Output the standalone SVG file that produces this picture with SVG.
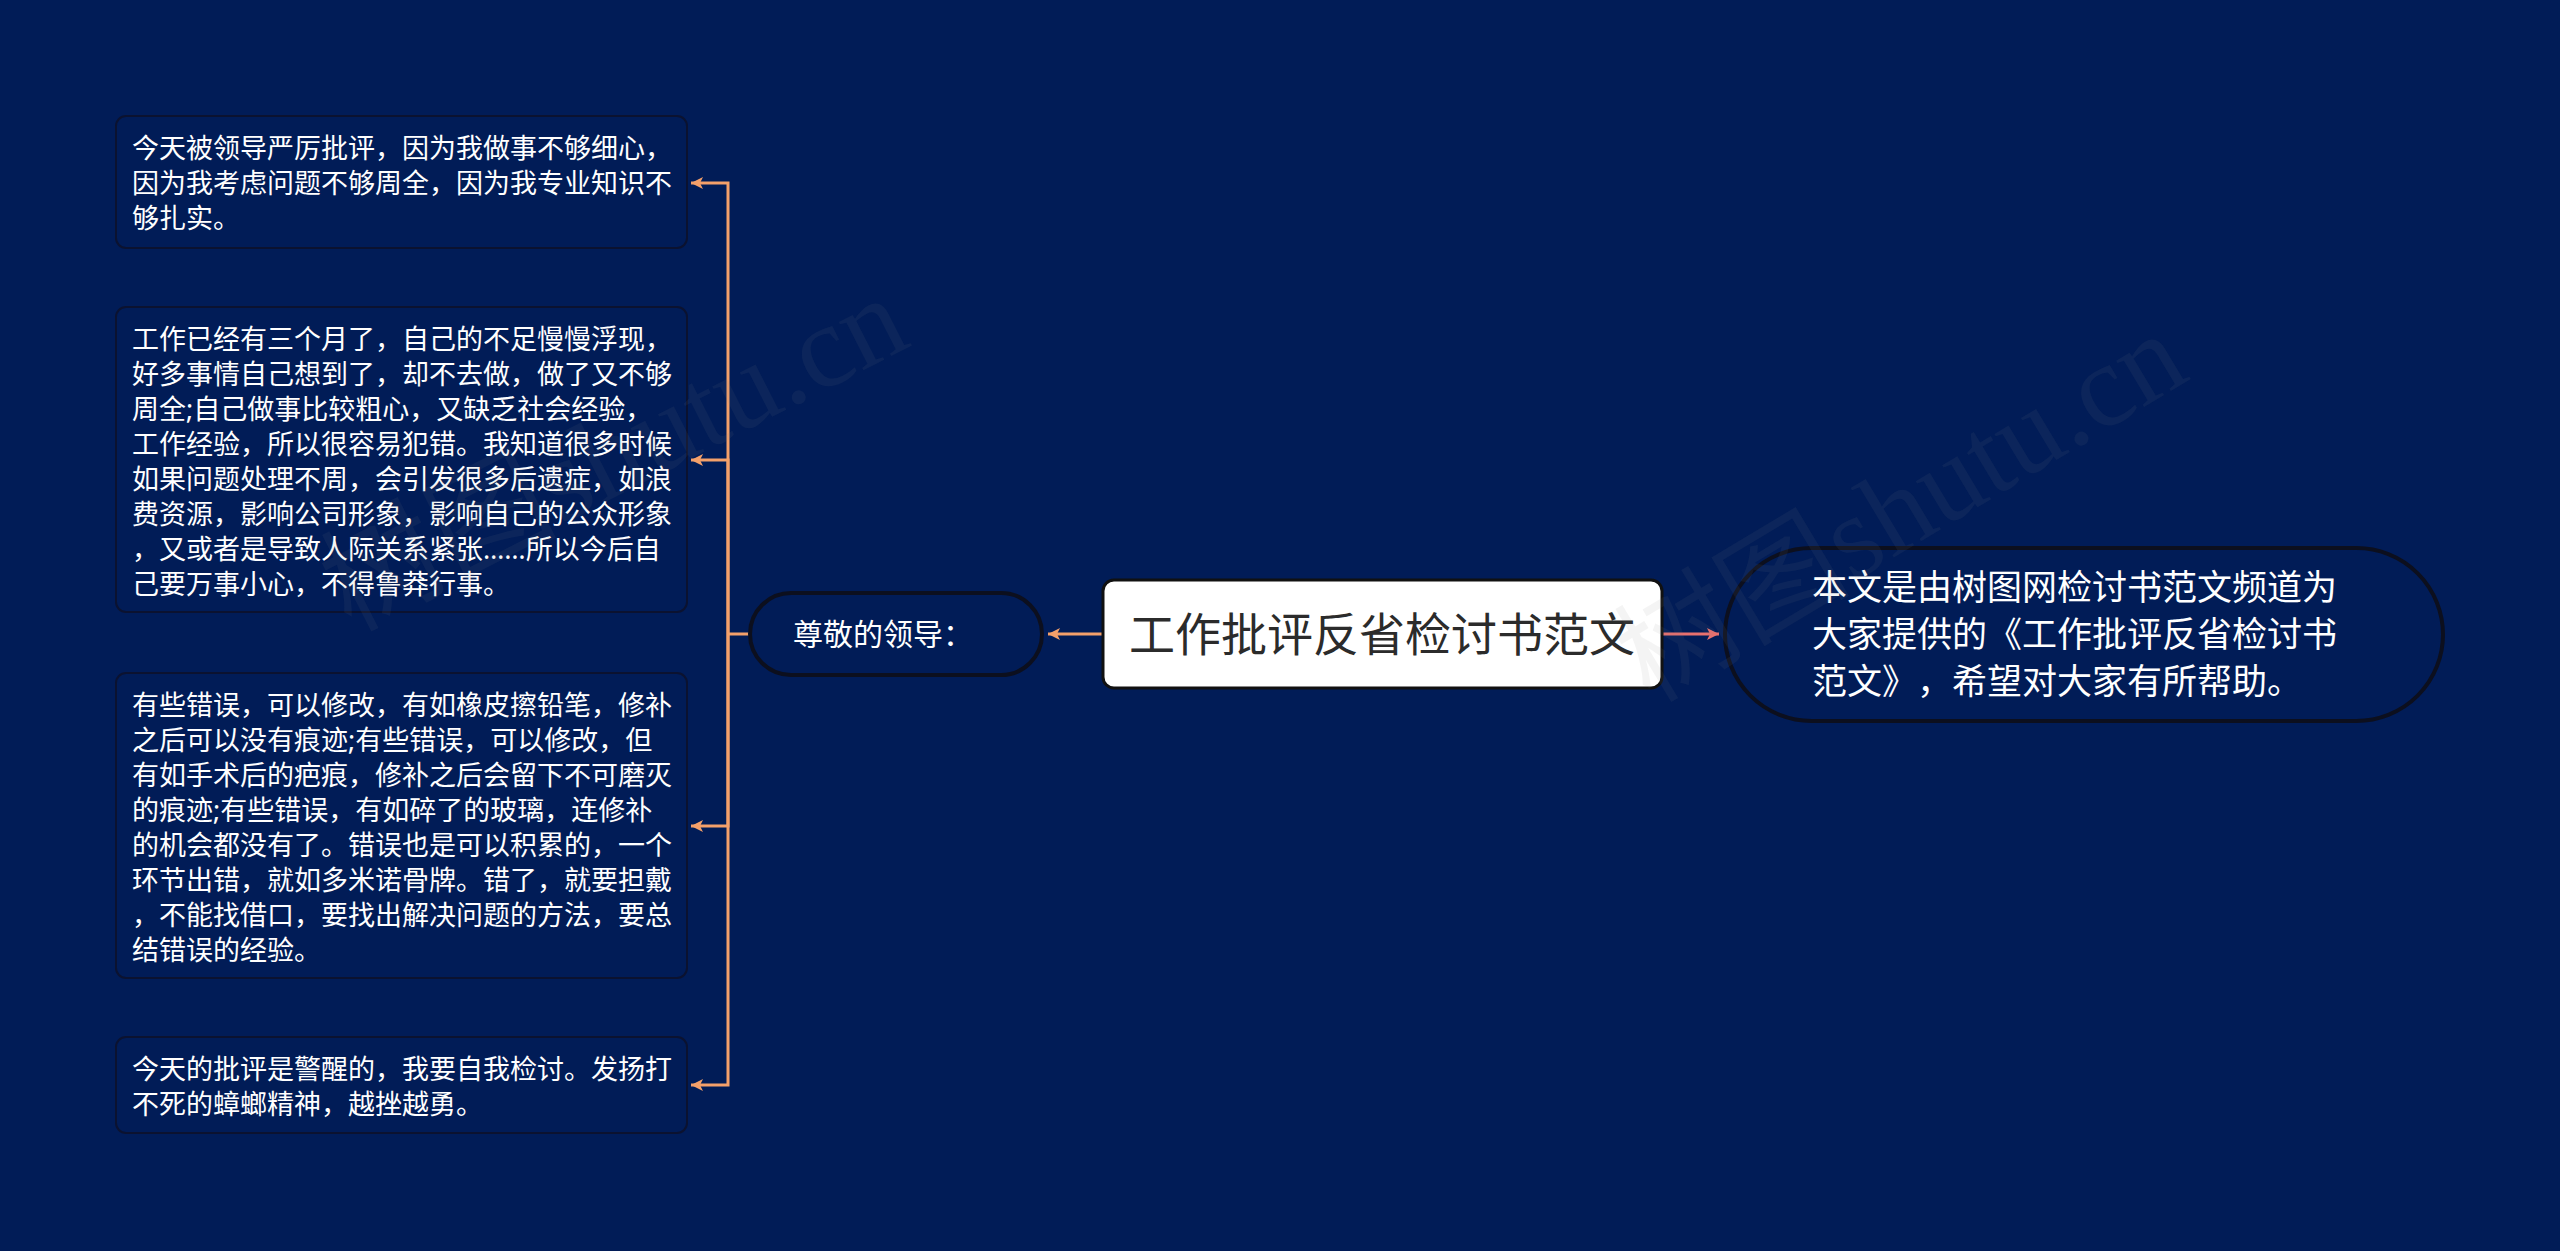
<svg xmlns="http://www.w3.org/2000/svg" width="2560" height="1251" viewBox="0 0 2560 1251">
<style>
.bg{fill:#011c57}
.box{fill:#011c57;stroke:#0b1230;stroke-width:2}
.pill{fill:#011c57;stroke:#0c0f1e;stroke-width:4}
.root{fill:#ffffff;stroke:#111111;stroke-width:3}
.t{font-family:"Noto Sans","Noto Sans CJK SC",sans-serif;fill:#ffffff;text-spacing-trim:space-all}
.s27{font-size:27px}
.s30{font-size:30px}
.s35{font-size:35px}
.rt{font-family:"Noto Sans CJK SC",sans-serif;font-size:46px;fill:#2b2b2b}
.wm{font-family:"Liberation Serif","Noto Sans CJK SC",serif;font-size:118px;fill:#8a8a8a;fill-opacity:0.09}
.co{fill:none;stroke:#f4a06a;stroke-width:3}
.cr{fill:none;stroke:#e8706e;stroke-width:3}
</style>
<defs>
<marker id="arrO" markerUnits="userSpaceOnUse" markerWidth="14" markerHeight="14" refX="12" refY="6" orient="auto">
<path d="M0,0 L12,6 L0,12 L3,6 z" fill="#f4a06a"/>
</marker>
<marker id="arrR" markerUnits="userSpaceOnUse" markerWidth="14" markerHeight="14" refX="12" refY="6" orient="auto">
<path d="M0,0 L12,6 L0,12 L3,6 z" fill="#e8706e"/>
</marker>
</defs>
<rect class="bg" x="0" y="0" width="2560" height="1251"/>
<g id="connectors">
<path class="co" d="M1103,634 H1048" marker-end="url(#arrO)"/>
<path class="cr" d="M1662,634 H1719" marker-end="url(#arrR)"/>
<path class="co" d="M750,634 H728"/>
<path class="co" d="M728,634 V183 H691" marker-end="url(#arrO)"/>
<path class="co" d="M728,634 V460 H691" marker-end="url(#arrO)"/>
<path class="co" d="M728,634 V826 H691" marker-end="url(#arrO)"/>
<path class="co" d="M728,634 V1085 H691" marker-end="url(#arrO)"/>
</g>
<g id="node-root">
<rect class="root" x="1103" y="580" width="559" height="108" rx="11"/>
<text class="rt" x="1382" y="651" text-anchor="middle">工作批评反省检讨书范文</text>
</g>
<g id="node-leader">
<rect class="pill" x="750" y="593" width="292" height="82" rx="41"/>
<text class="t s30" x="793" y="645">尊敬的领导：</text>
</g>
<g id="node-summary">
<rect class="pill" x="1725" y="548" width="718" height="173" rx="86.5"/>
<text class="t s35"><tspan x="1812" y="600">本文是由树图网检讨书范文频道为</tspan><tspan x="1812" y="647">大家提供的《工作批评反省检讨书</tspan><tspan x="1812" y="694">范文》，希望对大家有所帮助。</tspan></text>
</g>
<g id="node-box1">
<rect class="box" x="116" y="116" width="571" height="132" rx="10"/>
<text class="t s27"><tspan x="132" y="158">今天被领导严厉批评，因为我做事不够细心，</tspan><tspan x="132" y="193">因为我考虑问题不够周全，因为我专业知识不</tspan><tspan x="132" y="228">够扎实。</tspan></text>
</g>
<g id="node-box2">
<rect class="box" x="116" y="307" width="571" height="305" rx="10"/>
<text class="t s27"><tspan x="132" y="349">工作已经有三个月了，自己的不足慢慢浮现，</tspan><tspan x="132" y="384">好多事情自己想到了，却不去做，做了又不够</tspan><tspan x="132" y="419">周全;自己做事比较粗心，又缺乏社会经验，</tspan><tspan x="132" y="454">工作经验，所以很容易犯错。我知道很多时候</tspan><tspan x="132" y="489">如果问题处理不周，会引发很多后遗症，如浪</tspan><tspan x="132" y="524">费资源，影响公司形象，影响自己的公众形象</tspan><tspan x="132" y="559">，又或者是导致人际关系紧张……所以今后自</tspan><tspan x="132" y="594">己要万事小心，不得鲁莽行事。</tspan></text>
</g>
<g id="node-box3">
<rect class="box" x="116" y="673" width="571" height="305" rx="10"/>
<text class="t s27"><tspan x="132" y="715">有些错误，可以修改，有如橡皮擦铅笔，修补</tspan><tspan x="132" y="750">之后可以没有痕迹;有些错误，可以修改，但</tspan><tspan x="132" y="785">有如手术后的疤痕，修补之后会留下不可磨灭</tspan><tspan x="132" y="820">的痕迹;有些错误，有如碎了的玻璃，连修补</tspan><tspan x="132" y="855">的机会都没有了。错误也是可以积累的，一个</tspan><tspan x="132" y="890">环节出错，就如多米诺骨牌。错了，就要担戴</tspan><tspan x="132" y="925">，不能找借口，要找出解决问题的方法，要总</tspan><tspan x="132" y="960">结错误的经验。</tspan></text>
</g>
<g id="node-box4">
<rect class="box" x="116" y="1037" width="571" height="96" rx="10"/>
<text class="t s27"><tspan x="132" y="1079">今天的批评是警醒的，我要自我检讨。发扬打</tspan><tspan x="132" y="1114">不死的蟑螂精神，越挫越勇。</tspan></text>
</g>
<g id="watermarks">
<text class="wm" transform="translate(350,632) rotate(-27)">树图shutu.cn</text>
<text class="wm" transform="translate(1650,704) rotate(-31)">树图shutu.cn</text>
</g>
</svg>
